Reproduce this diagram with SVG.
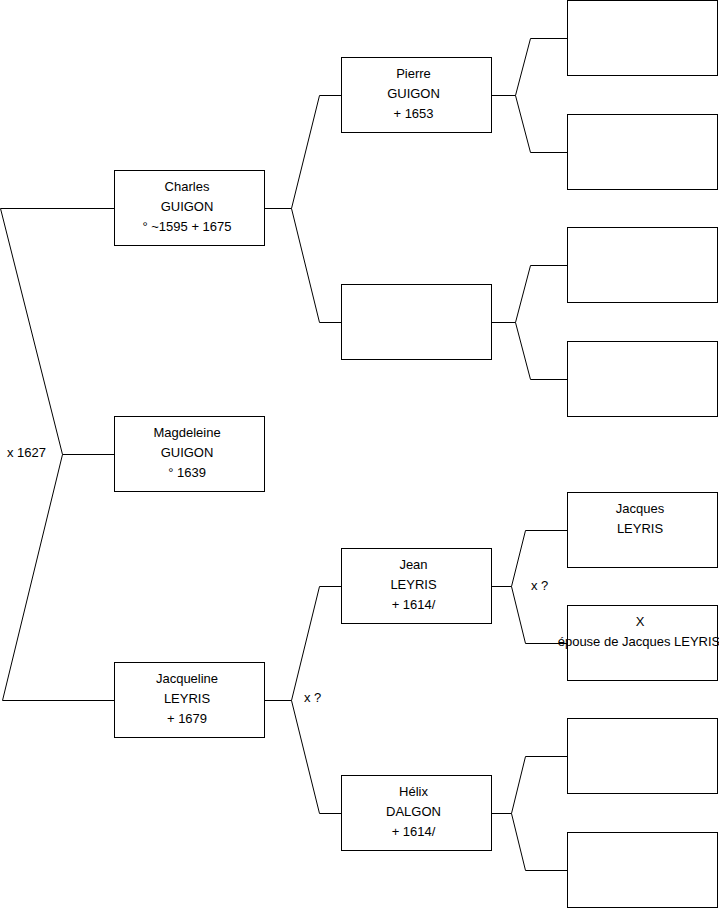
<svg xmlns="http://www.w3.org/2000/svg" width="719" height="908" viewBox="0 0 719 908">
<style>
.box{fill:#fff;stroke:#000;stroke-width:1}
.c{fill:none;stroke:#000;stroke-width:1}
text{font-family:"Liberation Sans",Arial,sans-serif;font-size:13px;fill:#000}
.m{text-anchor:middle}
</style>
<rect width="719" height="908" fill="#fff"/>
<g id="connectors">
<path class="c" d="M0.5,208.5 H114.5 M0.5,208.5 L62.5,454.5 H114.5 M62.5,454.5 L2.5,700.5 H114.5"/>
<path class="c" d="M264.5,208.5 H291.5 L319.5,95.5 H341.5 M291.5,208.5 L319.5,322.5 H341.5"/>
<path class="c" d="M264.5,700.5 H291.5 L319.5,586.5 H341.5 M291.5,700.5 L319.5,813.5 H341.5"/>
<path class="c" d="M491.5,95.5 H515.5 L530.5,38.5 H567.5 M515.5,95.5 L530.5,152.5 H567.5"/>
<path class="c" d="M491.5,322.5 H515.5 L530.5,265.5 H567.5 M515.5,322.5 L530.5,379.5 H567.5"/>
<path class="c" d="M491.5,586.5 H511.5 L525.5,530.5 H567.5 M511.5,586.5 L525.5,643.5 H567.5"/>
<path class="c" d="M491.5,813.5 H511.5 L525.5,756.5 H567.5 M511.5,813.5 L525.5,870.5 H567.5"/>
<text x="7" y="456.5">x 1627</text>
<text x="304" y="702">x ?</text>
<text x="531" y="589.5">x ?</text>
</g>
<g id="charles"><rect class="box" x="114.5" y="170.5" width="150" height="75"/><text class="m" x="187" y="191">Charles</text><text class="m" x="187" y="211">GUIGON</text><text class="m" x="187" y="231">° ~1595 + 1675</text></g>
<g id="magdeleine"><rect class="box" x="114.5" y="416.5" width="150" height="75"/><text class="m" x="187" y="437">Magdeleine</text><text class="m" x="187" y="457">GUIGON</text><text class="m" x="187" y="477">° 1639</text></g>
<g id="jacqueline"><rect class="box" x="114.5" y="662.5" width="150" height="75"/><text class="m" x="187" y="683">Jacqueline</text><text class="m" x="187" y="703">LEYRIS</text><text class="m" x="187" y="723">+ 1679</text></g>
<g id="pierre"><rect class="box" x="341.5" y="57.5" width="150" height="75"/><text class="m" x="413.5" y="78">Pierre</text><text class="m" x="413.5" y="98">GUIGON</text><text class="m" x="413.5" y="118">+ 1653</text></g>
<g id="mother-charles"><rect class="box" x="341.5" y="284.5" width="150" height="75"/></g>
<g id="jean"><rect class="box" x="341.5" y="548.5" width="150" height="75"/><text class="m" x="413.5" y="569">Jean</text><text class="m" x="413.5" y="589">LEYRIS</text><text class="m" x="413.5" y="609">+ 1614/</text></g>
<g id="helix"><rect class="box" x="341.5" y="775.5" width="150" height="75"/><text class="m" x="413.5" y="796">Hélix</text><text class="m" x="413.5" y="816">DALGON</text><text class="m" x="413.5" y="836">+ 1614/</text></g>
<g id="g3-1"><rect class="box" x="567.5" y="0.5" width="150" height="75"/></g>
<g id="g3-2"><rect class="box" x="567.5" y="114.5" width="150" height="75"/></g>
<g id="g3-3"><rect class="box" x="567.5" y="227.5" width="150" height="75"/></g>
<g id="g3-4"><rect class="box" x="567.5" y="341.5" width="150" height="75"/></g>
<g id="jacques"><rect class="box" x="567.5" y="492.5" width="150" height="75"/><text class="m" x="640" y="513">Jacques</text><text class="m" x="640" y="533">LEYRIS</text></g>
<g id="x-epouse"><rect class="box" x="567.5" y="605.5" width="150" height="75"/><text class="m" x="640" y="626">X</text><text class="m" x="639" y="646">épouse de Jacques LEYRIS</text></g>
<g id="g3-7"><rect class="box" x="567.5" y="718.5" width="150" height="75"/></g>
<g id="g3-8"><rect class="box" x="567.5" y="832.5" width="150" height="75"/></g>
</svg>
